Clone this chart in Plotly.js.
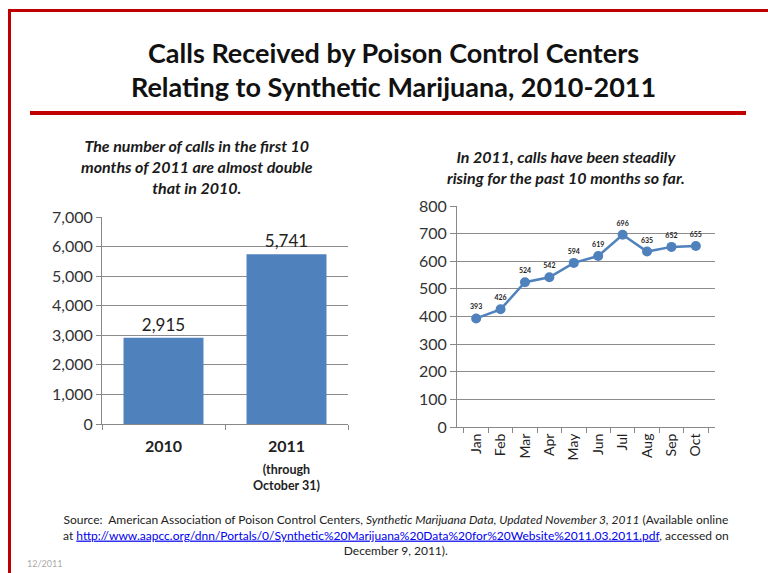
<!DOCTYPE html>
<html><head><meta charset="utf-8">
<script src="https://cdn.plot.ly/plotly-3.0.1.min.js"></script>
<style>html,body{margin:0;padding:0;background:#fff}#chart{width:768px;height:573px}</style>
</head><body><div id="chart"></div>
<script>
const yearCats = ["2010", "2011"];
const yearCalls = [2915, 5741];
const months = ["Jan","Feb","Mar","Apr","May","Jun","Jul","Aug","Sep","Oct"];
const monthCalls = [393, 426, 524, 542, 594, 619, 696, 635, 652, 655];
const barTicks = [0,1000,2000,3000,4000,5000,6000,7000];
const lineTicks = [0,100,200,300,400,500,600,700,800];

const F = "Lato, 'Open Sans', sans-serif";
const W = 768, H = 573;
const px = x => x / W, py = y => 1 - y / H;
const blue = "#4F81BD";
const red = "#C00000";

const traces = [
  {type:"bar", x:yearCats, y:yearCalls, xaxis:"x", yaxis:"y",
   marker:{color:blue}, text:yearCalls.map(v=>v.toLocaleString("en-US")),
   textposition:"outside", textfont:{family:F, size:17, color:"#222"}, cliponaxis:false, hoverinfo:"none"},
  {type:"scatter", mode:"lines+markers+text", x:months, y:monthCalls, xaxis:"x2", yaxis:"y2",
   line:{color:blue, width:2.5}, marker:{color:blue, size:10},
   text:monthCalls.map(String), textposition:"top center",
   textfont:{family:F, size:7, color:"#222", weight:"bold"}, cliponaxis:false, hoverinfo:"none"}
];

const axisCommon = {showline:true, linecolor:"#888", linewidth:1, fixedrange:true};
const ann = (x, y, text, size, extra) => Object.assign({xref:"paper", yref:"paper", x:px(x), y:py(y), xanchor:"center", yanchor:"middle",
  text, showarrow:false, font:{family:F, size, color:"#1a1a1a"}}, extra || {});
const layout = {
  width:W, height:H, margin:{l:0,r:0,t:0,b:0}, paper_bgcolor:"#fff", plot_bgcolor:"#fff",
  showlegend:false, font:{family:F, color:"#222"}, bargap:0.35,
  xaxis:{...axisCommon, type:"category", showgrid:false, domain:[px(102), px(348)], ticks:"outside", tickson:"boundaries", ticklen:5, tickcolor:"#888",
         ticklabelstandoff:8, tickfont:{family:F, size:16, color:"#222", weight:"bold"}, anchor:"y"},
  yaxis:{...axisCommon, domain:[py(424), py(217)], range:[0,7000], tickvals:barTicks, tickformat:",d",
         ticks:"outside", ticklen:5, tickcolor:"#888", showgrid:true, gridcolor:"#8c8c8c", gridwidth:1,
         tickfont:{family:F, size:16, color:"#333"}, anchor:"x", zeroline:false},
  xaxis2:{...axisCommon, type:"category", showgrid:false, domain:[px(457), px(715)], ticks:"outside", tickson:"boundaries", ticklen:5, tickcolor:"#888",
          tickangle:-90, tickfont:{family:F, size:14, color:"#222"}, anchor:"y2"},
  yaxis2:{...axisCommon, domain:[py(427), py(206)], range:[0,800], tickvals:lineTicks,
          ticks:"outside", ticklen:6, tickcolor:"#888", showgrid:true, gridcolor:"#8c8c8c", gridwidth:1,
          tickfont:{family:F, size:16, color:"#333"}, anchor:"x2", zeroline:false},
  shapes:[
    {type:"rect", xref:"paper", yref:"paper", x0:px(8), x1:1, y0:py(12), y1:py(9), fillcolor:red, line:{width:0}},
    {type:"rect", xref:"paper", yref:"paper", x0:px(8), x1:px(11), y0:0, y1:py(9), fillcolor:red, line:{width:0}},
    {type:"rect", xref:"paper", yref:"paper", x0:px(30), x1:px(746), y0:py(115), y1:py(111), fillcolor:red, line:{width:0}}
  ],
  annotations:[
    ann(393, 52, "<b>Calls Received by Poison Control Centers</b>", 27, {font:{family:F, size:27, color:"#111"}}),
    ann(393, 86, "<b>Relating to Synthetic Marijuana, 2010-2011</b>", 27, {font:{family:F, size:27, color:"#111"}}),
    ann(197, 166, "<b><i>The number of calls in the first 10<br>months of 2011 are almost double<br>that in 2010.</i></b>", 16),
    ann(566, 167, "<b><i>In 2011, calls have been steadily<br>rising for the past 10 months so far.</i></b>", 16),
    ann(286, 477, "<b>(through<br>October 31)</b>", 12.5, {font:{family:F, size:12.5, color:"#222"}}),
    ann(396, 535, "Source:  American Association of Poison Control Centers, <i>Synthetic Marijuana Data, Updated November 3, 2011</i> (Available online<br>at <span style='color:#0000ee'><u>http://www.aapcc.org/dnn/Portals/0/Synthetic%20Marijuana%20Data%20for%20Website%2011.03.2011.pdf</u></span>, accessed on<br>December 9, 2011).", 12, {font:{family:F, size:12, color:"#222"}}),
    ann(25, 563, "12/2011", 9, {xanchor:"left", font:{family:F, size:9, color:"#aaa"}})
  ]
};
Plotly.newPlot("chart", traces, layout, {staticPlot:true});
</script></body></html>
